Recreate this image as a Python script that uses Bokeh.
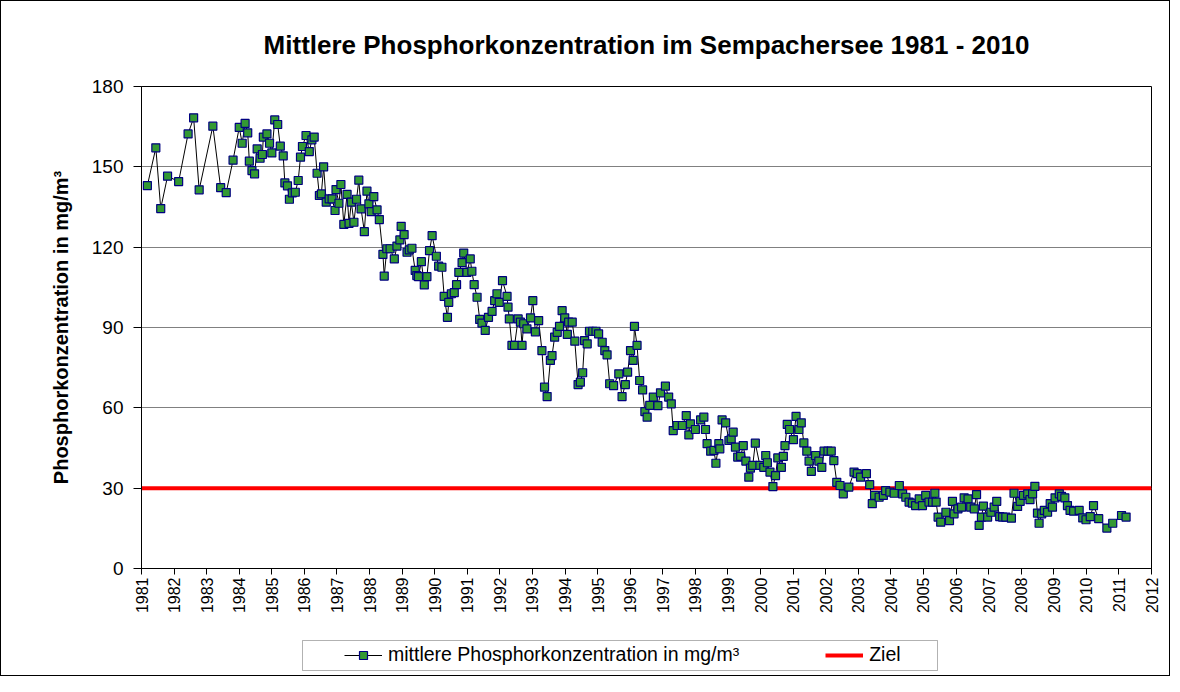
import math
from bokeh.plotting import figure
from bokeh.layouts import column
from bokeh.models import Range1d, FixedTicker, Legend, LegendItem, BoxAnnotation
from bokeh.embed import file_html
from bokeh.resources import INLINE

FONT = "Liberation Sans"

title_text = "Mittlere Phosphorkonzentration im Sempachersee 1981 - 2010"
y_label = "Phosphorkonzentration in mg/m³"
series_label = "mittlere Phosphorkonzentration in mg/m³"
target_label = "Ziel"

years = [
    1981.18, 1981.44, 1981.59, 1981.80, 1982.14, 1982.43, 1982.60, 1982.77, 1983.19, 1983.43,
    1983.60, 1983.81, 1984.00, 1984.09, 1984.18, 1984.26, 1984.31, 1984.39, 1984.47, 1984.55,
    1984.64, 1984.71, 1984.74, 1984.85, 1984.93, 1985.00, 1985.09, 1985.18, 1985.26, 1985.35,
    1985.40, 1985.48, 1985.54, 1985.63, 1985.72, 1985.81, 1985.88, 1985.94, 1986.05, 1986.15,
    1986.23, 1986.30, 1986.39, 1986.46, 1986.52, 1986.59, 1986.67, 1986.76, 1986.85, 1986.94,
    1986.97, 1987.06, 1987.12, 1987.21, 1987.31, 1987.37, 1987.44, 1987.52, 1987.60, 1987.67,
    1987.74, 1987.84, 1987.92, 1987.98, 1988.05, 1988.13, 1988.23, 1988.30, 1988.41, 1988.45,
    1988.53, 1988.63, 1988.76, 1988.84, 1988.93, 1988.97, 1989.06, 1989.15, 1989.22, 1989.30,
    1989.40, 1989.45, 1989.50, 1989.59, 1989.68, 1989.76, 1989.84, 1989.92, 1990.05, 1990.12,
    1990.22, 1990.29, 1990.39, 1990.43, 1990.51, 1990.60, 1990.67, 1990.74, 1990.84, 1990.89,
    1990.99, 1991.09, 1991.14, 1991.21, 1991.30, 1991.38, 1991.45, 1991.55, 1991.65, 1991.76,
    1991.84, 1991.91, 1991.98, 1992.08, 1992.22, 1992.25, 1992.29, 1992.37, 1992.45, 1992.56,
    1992.63, 1992.68, 1992.73, 1992.83, 1992.94, 1993.01, 1993.09, 1993.19, 1993.29, 1993.37,
    1993.45, 1993.55, 1993.60, 1993.68, 1993.76, 1993.83, 1993.91, 1993.99, 1994.07, 1994.11,
    1994.22, 1994.30, 1994.40, 1994.47, 1994.54, 1994.60, 1994.68, 1994.75, 1994.85, 1994.95,
    1995.03, 1995.14, 1995.22, 1995.29, 1995.37, 1995.49, 1995.65, 1995.75, 1995.85, 1995.92,
    1996.01, 1996.09, 1996.13, 1996.21, 1996.29, 1996.38, 1996.45, 1996.52, 1996.60, 1996.71,
    1996.85, 1996.93, 1997.08, 1997.18, 1997.26, 1997.32, 1997.44, 1997.60, 1997.72, 1997.80,
    1997.85, 1998.00, 1998.16, 1998.26, 1998.31, 1998.36, 1998.47, 1998.57, 1998.63, 1998.72,
    1998.75, 1998.82, 1998.93, 1999.03, 1999.10, 1999.16, 1999.23, 1999.30, 1999.39, 1999.47,
    1999.55, 1999.64, 1999.69, 1999.76, 1999.84, 1999.98, 2000.10, 2000.16, 2000.21, 2000.29,
    2000.38, 2000.46, 2000.53, 2000.64, 2000.70, 2000.75, 2000.82, 2000.89, 2001.01, 2001.09,
    2001.18, 2001.25, 2001.33, 2001.42, 2001.49, 2001.56, 2001.69, 2001.79, 2001.88, 2001.95,
    2002.07, 2002.17, 2002.25, 2002.34, 2002.44, 2002.54, 2002.71, 2002.87, 2002.97, 2003.07,
    2003.25, 2003.35, 2003.43, 2003.50, 2003.64, 2003.77, 2003.84, 2003.97, 2004.10, 2004.26,
    2004.36, 2004.46, 2004.56, 2004.66, 2004.76, 2004.87, 2004.97, 2005.07, 2005.17, 2005.28,
    2005.35, 2005.39, 2005.45, 2005.53, 2005.69, 2005.80, 2005.89, 2005.94, 2006.06, 2006.17,
    2006.25, 2006.37, 2006.45, 2006.56, 2006.63, 2006.71, 2006.78, 2006.84, 2006.97, 2007.07,
    2007.17, 2007.25, 2007.34, 2007.43, 2007.53, 2007.70, 2007.78, 2007.89, 2007.97, 2008.07,
    2008.20, 2008.27, 2008.35, 2008.42, 2008.50, 2008.55, 2008.63, 2008.71, 2008.81, 2008.89,
    2008.96, 2009.04, 2009.17, 2009.24, 2009.34, 2009.42, 2009.50, 2009.61, 2009.78, 2009.89,
    2009.99, 2010.12, 2010.22, 2010.38, 2010.63, 2010.81, 2011.08, 2011.22,
]

phosphor = [
    143.0, 157.1, 134.4, 146.5, 144.5, 162.3, 168.3, 141.4, 165.2, 142.2,
    140.4, 152.5, 164.7, 158.8, 166.2, 162.7, 152.1, 148.6, 147.4, 156.7,
    153.2, 154.6, 161.1, 162.3, 158.8, 155.2, 167.5, 165.8, 157.7, 154.1,
    144.0, 142.9, 137.9, 140.3, 140.5, 144.9, 153.6, 157.6, 161.7, 155.7,
    160.1, 161.1, 147.6, 139.3, 139.9, 150.0, 136.8, 138.0, 138.0, 133.7,
    141.5, 136.4, 143.4, 128.5, 139.7, 128.9, 136.8, 129.3, 137.9, 145.0,
    134.3, 125.8, 140.9, 136.2, 133.3, 138.9, 133.9, 130.3, 117.3, 109.2,
    119.4, 119.4, 115.6, 120.4, 122.7, 127.8, 124.7, 118.1, 119.0, 119.6,
    111.3, 109.4, 109.0, 114.6, 105.9, 109.0, 118.7, 124.3, 116.6, 112.9,
    112.5, 101.6, 93.8, 99.4, 102.6, 103.0, 106.0, 110.6, 114.2, 117.8,
    110.6, 115.6, 111.0, 106.0, 101.3, 93.0, 91.6, 88.9, 93.8, 96.0,
    100.0, 102.6, 99.4, 107.5, 101.6, 97.6, 93.2, 83.3, 83.3, 93.2,
    92.0, 83.3, 91.4, 89.5, 93.6, 100.0, 88.4, 92.6, 81.4, 67.7,
    64.2, 77.7, 79.5, 86.4, 88.2, 90.4, 96.3, 93.6, 87.4, 92.0,
    92.0, 84.9, 68.7, 69.6, 73.1, 85.1, 83.9, 88.6, 88.6, 88.6,
    87.6, 84.5, 81.4, 79.8, 69.0, 68.3, 72.7, 64.2, 68.7, 73.3,
    81.4, 77.7, 90.4, 83.3, 70.2, 66.7, 58.6, 56.5, 60.9, 64.0,
    60.8, 65.6, 68.1, 64.0, 61.5, 51.5, 53.4, 53.4, 57.1, 49.9,
    54.0, 51.9, 55.5, 56.5, 51.9, 46.6, 43.8, 44.1, 39.3, 46.6,
    44.7, 55.5, 54.4, 47.8, 48.4, 50.9, 45.3, 41.6, 41.9, 45.9,
    40.1, 34.1, 37.5, 38.5, 46.8, 38.5, 37.8, 42.2, 39.5, 36.0,
    30.6, 34.7, 41.3, 37.8, 41.9, 45.9, 53.8, 51.9, 48.1, 56.8,
    51.9, 54.4, 46.9, 43.8, 40.1, 36.3, 42.2, 40.1, 37.8, 43.8,
    43.8, 43.8, 40.3, 32.2, 31.0, 27.9, 30.4, 36.0, 35.4, 34.1,
    35.4, 31.3, 24.2, 27.3, 26.6, 27.3, 29.1, 28.5, 28.1, 31.0,
    27.9, 26.6, 24.8, 24.4, 23.5, 26.0, 23.5, 27.3, 24.8, 24.8,
    28.1, 24.8, 19.2, 17.3, 21.0, 17.9, 25.1, 20.4, 22.3, 22.9,
    26.4, 26.0, 22.9, 22.3, 27.6, 16.1, 19.2, 23.3, 19.2, 21.0,
    22.9, 25.1, 19.4, 19.2, 19.2, 18.8, 28.1, 23.2, 25.1, 27.3,
    27.9, 25.7, 27.9, 30.7, 20.7, 16.9, 20.4, 21.7, 21.0, 24.2,
    22.9, 26.4, 27.9, 26.9, 26.4, 23.5, 21.7, 21.4, 21.7, 18.9,
    18.2, 19.4, 23.5, 18.6, 15.1, 16.9, 19.8, 19.2,
]

ziel_x = [1981, 2012]
ziel_y = [30, 30]

x_ticks = list(range(1981, 2013))
y_ticks = [0, 30, 60, 90, 120, 150, 180]

GREEN = "#339933"
NAVY = "#000080"
RED = "#ff0000"

# ---------------- main chart ----------------
p = figure(width=1168, height=630, output_backend="svg", toolbar_location=None,
           x_range=Range1d(1981, 2012), y_range=Range1d(0, 180),
           min_border_left=140, min_border_right=18, min_border_top=85, min_border_bottom=63)

p.title.text = title_text
p.title.align = "center"
p.title.text_font = FONT
p.title.text_font_size = "26px"
p.title.text_font_style = "bold"
p.title.text_color = "black"
p.title.standoff = 53

p.outline_line_color = "black"
p.outline_line_width = 1
p.background_fill_color = "white"
p.border_fill_color = "white"

p.xgrid.grid_line_color = None
p.ygrid.grid_line_color = "#808080"
p.ygrid.grid_line_width = 1
p.ygrid.ticker = FixedTicker(ticks=y_ticks)

xa = p.xaxis[0]
xa.ticker = FixedTicker(ticks=x_ticks)
xa.major_label_orientation = math.pi / 2
xa.major_label_text_font = FONT
xa.major_label_text_font_size = "16px"
xa.major_label_text_color = "black"
xa.major_tick_out = 6
xa.major_tick_in = 0
xa.minor_tick_line_color = None
xa.axis_line_color = "black"
xa.major_tick_line_color = "black"
xa.major_label_standoff = 3

ya = p.yaxis[0]
ya.ticker = FixedTicker(ticks=y_ticks)
ya.major_label_text_font = FONT
ya.major_label_text_font_size = "19px"
ya.major_label_text_color = "black"
ya.major_tick_out = 8
ya.major_tick_in = 0
ya.minor_tick_line_color = None
ya.axis_line_color = "black"
ya.major_tick_line_color = "black"
ya.major_label_standoff = 10
ya.axis_label = y_label
ya.axis_label_text_font = FONT
ya.axis_label_text_font_size = "20px"
ya.axis_label_text_font_style = "bold"
ya.axis_label_text_color = "black"
ya.axis_label_standoff = 17

p.line(ziel_x, ziel_y, line_color=RED, line_width=4)
p.line(years, phosphor, line_color="black", line_width=1)
p.scatter(years, phosphor, marker="square", size=8, fill_color=GREEN,
          line_color=NAVY, line_width=1.2)

# ---------------- legend strip (same side borders as the chart) ----------------
lg = figure(width=1168, height=44, output_backend="svg", toolbar_location=None,
            x_range=Range1d(0, 1010), y_range=Range1d(0, 44),
            x_axis_location=None, y_axis_location=None,
            min_border_left=140, min_border_right=18, min_border_top=0, min_border_bottom=0)
lg.grid.visible = False
lg.outline_line_color = None
lg.background_fill_color = "white"
lg.border_fill_color = "white"

legend_frame = BoxAnnotation(left=161, right=796, bottom=5, top=35,
                             fill_alpha=0, line_color="black", line_width=1)
lg.add_layout(legend_frame)

nan = float("nan")
key_line = lg.line(x=[nan], y=[nan], line_color="black", line_width=1)
key_mark = lg.scatter(x=[nan], y=[nan], marker="square", size=8, fill_color=GREEN,
                      line_color=NAVY, line_width=1.2)
key_ziel = lg.line(x=[nan], y=[nan], line_color=RED, line_width=4)

legend = Legend(items=[LegendItem(label=series_label, renderers=[key_line, key_mark]),
                       LegendItem(label=target_label, renderers=[key_ziel])],
                location=(203, 9), orientation="horizontal", padding=0, margin=0,
                spacing=86, glyph_width=38, glyph_height=20, label_standoff=6,
                label_text_font=FONT, label_text_font_size="19.5px",
                label_text_color="black",
                border_line_alpha=0, background_fill_alpha=0)
lg.add_layout(legend, "center")

layout = column(p, lg, spacing=0, styles={"border": "1px solid black"})

open("out.html", "w").write(file_html(layout, INLINE))
